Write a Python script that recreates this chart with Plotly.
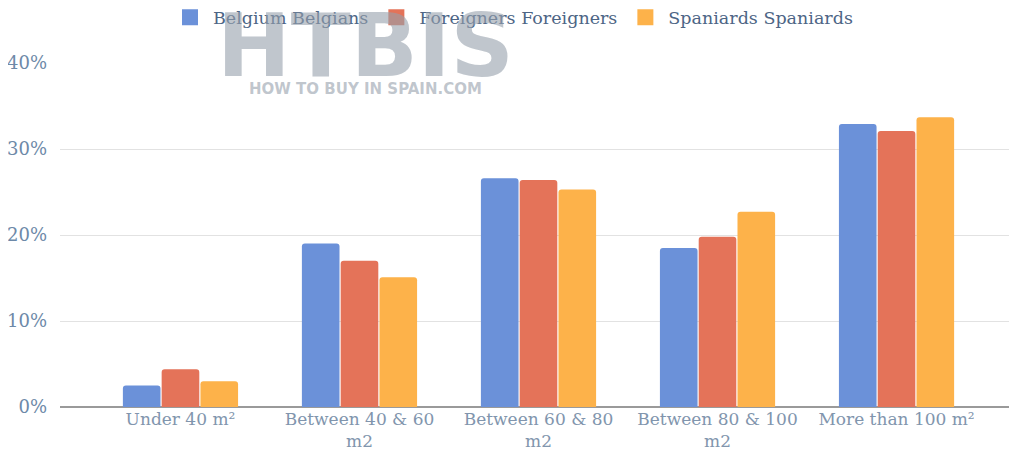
import plotly.graph_objects as go

categories = ["Under 40 m²", "Between 40 &amp; 60<br>m2", "Between 60 &amp; 80<br>m2",
              "Between 80 &amp; 100<br>m2", "More than 100 m²"]
belgians = [2.5, 19.0, 26.6, 18.5, 32.9]
foreigners = [4.4, 17.0, 26.4, 19.8, 32.1]
spaniards = [3.0, 15.1, 25.3, 22.7, 33.7]
series_names = ["Belgium Belgians", "Foreigners Foreigners", "Spaniards Spaniards"]
colors = ["#6b91d9", "#e47359", "#fdb24a"]
y_ticks = [0, 10, 20, 30, 40]
y_labels = ["0%", "10%", "20%", "30%", "40%"]

FONT = "DejaVu Serif"
fig = go.Figure()
for name, vals, col in zip(series_names, [belgians, foreigners, spaniards], colors):
    fig.add_trace(go.Bar(x=categories, y=vals, name=name, marker_color=col,
                         marker_line_width=0, hoverinfo="skip", showlegend=False))
# legend entries with larger square swatches
for name, col in zip(series_names, colors):
    fig.add_trace(go.Scatter(x=[None], y=[None], mode="markers", name=name,
                             marker=dict(symbol="square", size=17, color=col),
                             showlegend=True))

fig.update_layout(
    width=1009, height=453,
    margin=dict(l=52, r=0, t=55, b=54, autoexpand=False),
    paper_bgcolor="white", plot_bgcolor="white",
    barmode="group", bargap=0.35, bargroupgap=0.03, barcornerradius=3,
    font=dict(family=FONT, size=17, color="#7f93ab"),
    legend=dict(orientation="h", x=0.5, xanchor="center", xref="container",
                y=1.185, yanchor="top", yref="paper",
                font=dict(size=17.5, color="#4d6585"), itemwidth=36,
                itemsizing="trace", traceorder="normal"),
    xaxis=dict(range=[-0.673, 4.673], showgrid=False, showline=False, ticks="",
               automargin=False, tickfont=dict(size=17, color="#8195ad")),
    yaxis=dict(range=[0, 40], tickvals=y_ticks, ticktext=y_labels,
               showgrid=True, gridcolor="#e2e2e2", gridwidth=1,
               zeroline=True, zerolinecolor="#9a9a9a", zerolinewidth=1.5,
               ticks="", ticklabelstandoff=12, automargin=False,
               tickfont=dict(size=18, color="#6d89a8")),
)

fig.add_annotation(text="<b>HTBIS</b>", xref="paper", yref="paper", x=0.319, y=1.05,
                   xanchor="center", yanchor="middle", showarrow=False,
                   font=dict(family="DejaVu Sans", size=88, color="rgba(150,160,172,0.6)"))
fig.add_annotation(text="<b>HOW TO BUY IN SPAIN.COM</b>", xref="paper", yref="paper",
                   x=0.319, y=0.925, xanchor="center", yanchor="middle", showarrow=False,
                   font=dict(family="DejaVu Sans", size=15, color="rgba(150,160,172,0.6)"))

fig.write_html("out.html")
